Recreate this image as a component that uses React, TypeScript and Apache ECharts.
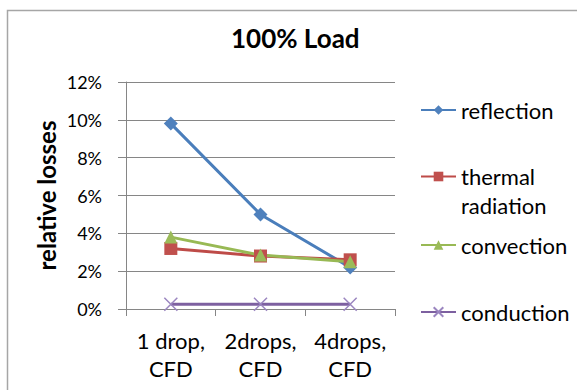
import React, { useEffect, useRef } from "react";
import * as echarts from "echarts";

const categories = ["1 drop,\nCFD", "2drops,\nCFD", "4drops,\nCFD"];
const reflection = [0.098, 0.05, 0.022];
const thermalRadiation = [0.032, 0.028, 0.026];
const convection = [0.038, 0.0285, 0.025];
const conduction = [0.0025, 0.0025, 0.0025];
const yTicks = { min: 0, max: 0.12, interval: 0.02 };

const FONT = "Lato, 'Noto Sans', sans-serif";

export default function App() {
  const ref = useRef<HTMLDivElement>(null);
  useEffect(() => {
    if (!ref.current) return;
    const chart = echarts.init(ref.current, null, { renderer: "svg" });
    const legendBase = {
      orient: "vertical",
      left: 415,
      itemWidth: 35,
      itemHeight: 12,
      textStyle: { fontFamily: FONT, fontSize: 22, color: "#000" },
    };
    chart.setOption({
      animation: false,
      backgroundColor: "#fff",
      textStyle: { fontFamily: FONT },
      title: {
        text: "100% Load",
        left: 226,
        top: 20,
        textStyle: { fontFamily: FONT, fontSize: 26, fontWeight: "bold", color: "#000" },
      },
      graphic: [
        {
          type: "rect",
          shape: { x: 7.5, y: 10.5, width: 620, height: 420 },
          style: { fill: "none", stroke: "#a6a6a6", lineWidth: 1.5 },
          silent: true,
        },
      ],
      legend: [
        { ...legendBase, top: 94, data: ["reflection"] },
        {
          ...legendBase,
          top: 128,
          data: ["thermal radiation"],
          formatter: () => "\nthermal\nradiation",
          textStyle: { ...legendBase.textStyle, lineHeight: 29 },
        },
        { ...legendBase, top: 229, data: ["convection"] },
        { ...legendBase, top: 296, data: ["conduction"] },
      ],
      grid: { left: 126, right: 182, top: 82, bottom: 81, containLabel: false },
      xAxis: {
        type: "category",
        data: categories,
        boundaryGap: true,
        axisLine: { show: true, lineStyle: { color: "#868686", width: 1 } },
        axisTick: { show: true, length: 7, alignWithLabel: false, lineStyle: { color: "#868686" } },
        axisLabel: { fontFamily: FONT, fontSize: 22, color: "#000", lineHeight: 28, margin: 17, interval: 0 },
      },
      yAxis: {
        type: "value",
        min: yTicks.min,
        max: yTicks.max,
        interval: yTicks.interval,
        name: "relative losses",
        nameLocation: "middle",
        nameGap: 68,
        nameTextStyle: { fontFamily: FONT, fontSize: 24, fontWeight: "bold", color: "#000" },
        axisLine: { show: true, lineStyle: { color: "#868686", width: 1 } },
        axisTick: { show: true, length: 8, lineStyle: { color: "#868686" } },
        splitLine: { show: true, lineStyle: { color: "#868686", width: 1 } },
        axisLabel: {
          fontFamily: FONT,
          fontSize: 18,
          color: "#000",
          margin: 24,
          formatter: (v: number) => Math.round(v * 100) + "%",
        },
      },
      series: [
        {
          name: "reflection",
          type: "line",
          data: reflection,
          symbol: "diamond",
          symbolSize: 14,
          lineStyle: { color: "#4A7EBB", width: 3 },
          itemStyle: { color: "#4F81BD" },
        },
        {
          name: "thermal radiation",
          type: "line",
          data: thermalRadiation,
          symbol: "rect",
          symbolSize: 13,
          lineStyle: { color: "#BE4B48", width: 3 },
          itemStyle: { color: "#C0504D" },
        },
        {
          name: "convection",
          type: "line",
          data: convection,
          symbol: "triangle",
          symbolSize: 13,
          lineStyle: { color: "#98B954", width: 3 },
          itemStyle: { color: "#9BBB59" },
        },
        {
          name: "conduction",
          type: "line",
          data: conduction,
          symbol: "path://M0,0L10,10M10,0L0,10",
          symbolSize: 13,
          lineStyle: { color: "#7D60A0", width: 3 },
          itemStyle: { color: "#9b86c0", borderColor: "#9b86c0", borderWidth: 1.5 },
        },
      ],
    });
    return () => chart.dispose();
  }, []);
  return (
    <div
      ref={ref}
      style={{ position: "fixed", left: 0, top: 0, width: 577, height: 390 }}
    />
  );
}
